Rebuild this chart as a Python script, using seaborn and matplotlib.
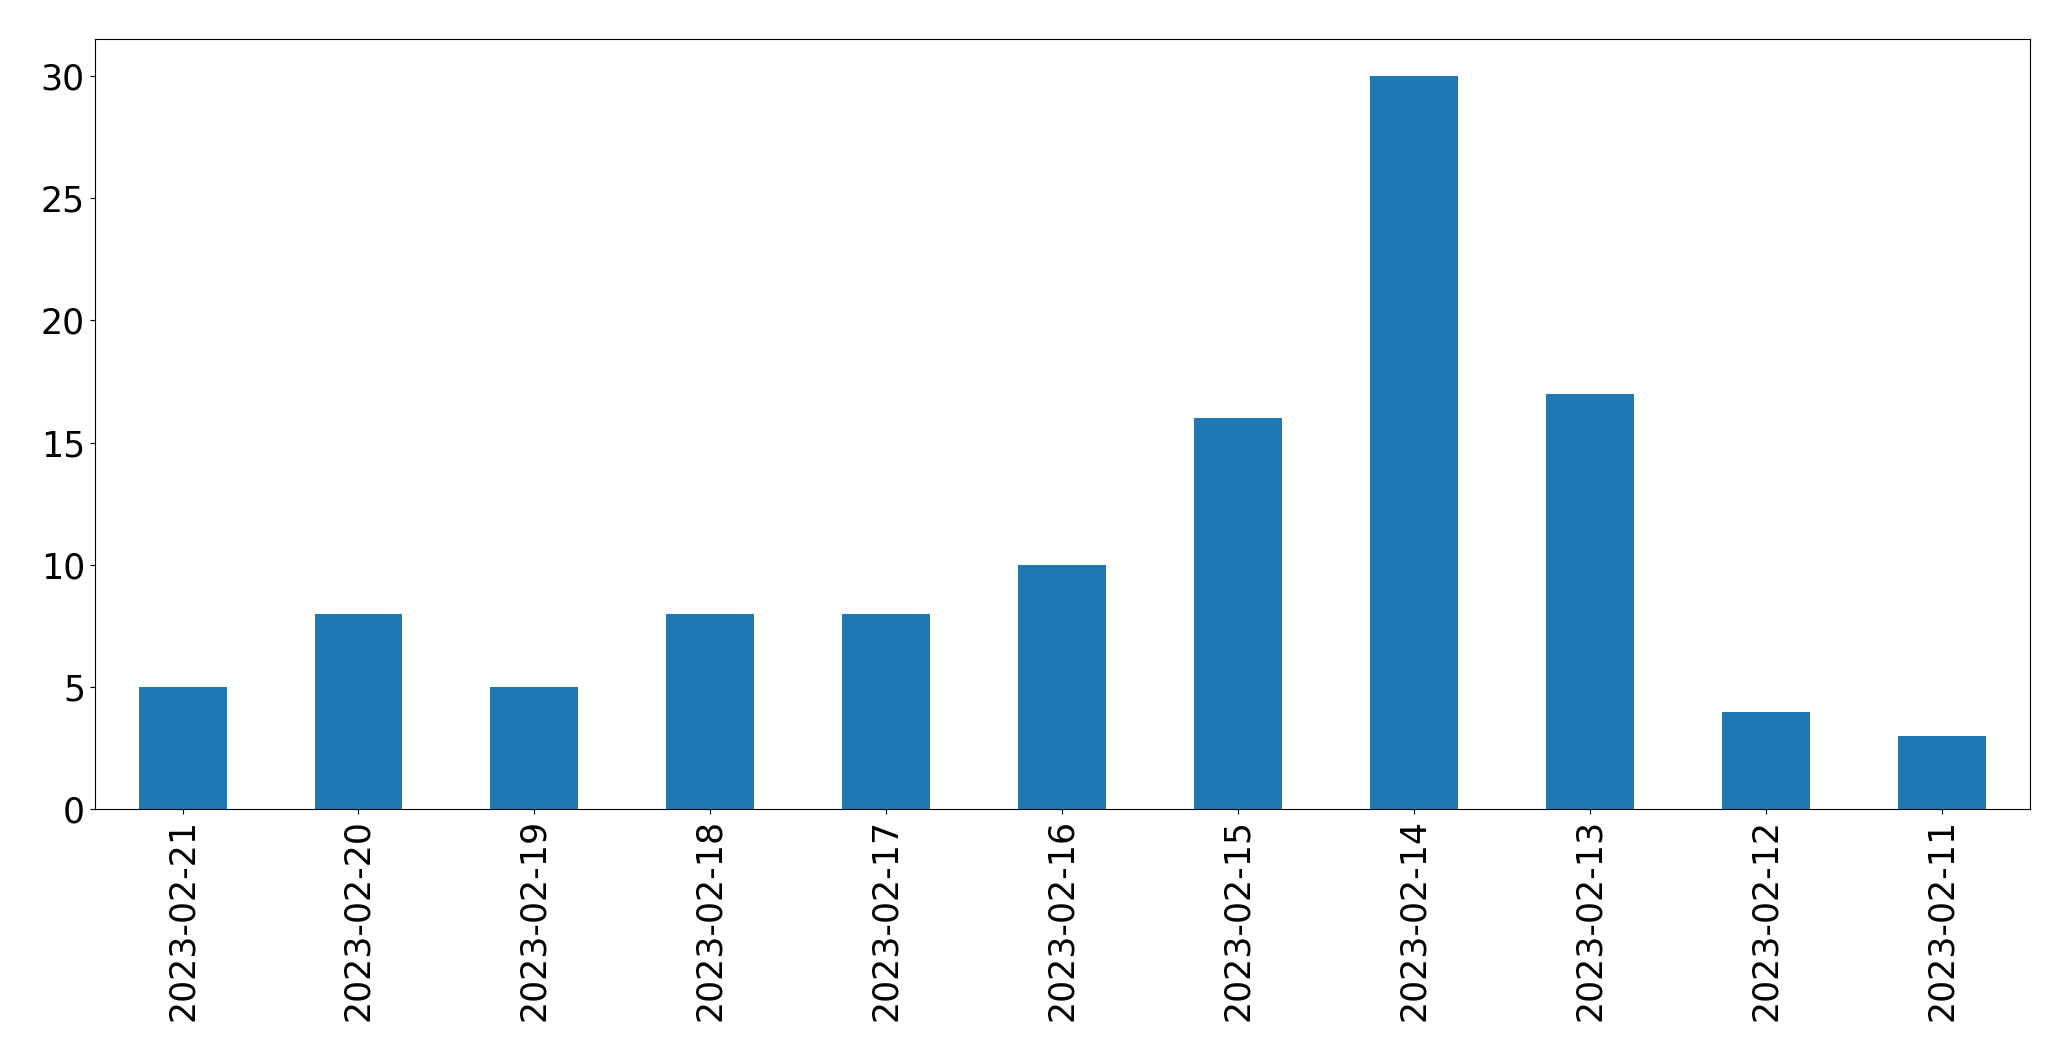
import pandas as pd
import matplotlib
matplotlib.use('Agg')
import matplotlib.pyplot as plt
import seaborn as sns

# Daily counts, newest first (as in the source chart)
dates = ['2023-02-21', '2023-02-20', '2023-02-19', '2023-02-18', '2023-02-17',
         '2023-02-16', '2023-02-15', '2023-02-14', '2023-02-13', '2023-02-12',
         '2023-02-11']
counts = [5, 8, 5, 8, 8, 10, 16, 30, 17, 4, 3]

df = pd.DataFrame({'date': dates, 'count': counts})

fig, ax = plt.subplots(figsize=(20.71, 10.61), dpi=100)
sns.barplot(data=df, x='date', y='count', order=dates, color='#1f77b4',
            saturation=1, width=0.5, ax=ax)

ax.set_xlim(-0.5, len(dates) - 0.5)
ax.set_ylim(0, max(counts) * 1.05)
ax.set_xlabel('')
ax.set_ylabel('')
ax.tick_params(axis='both', labelsize=25)
ax.tick_params(axis='x', labelrotation=90)

plt.subplots_adjust(left=0.0457, right=0.980, top=0.963, bottom=0.2372)
plt.savefig('out.png', dpi=100)
